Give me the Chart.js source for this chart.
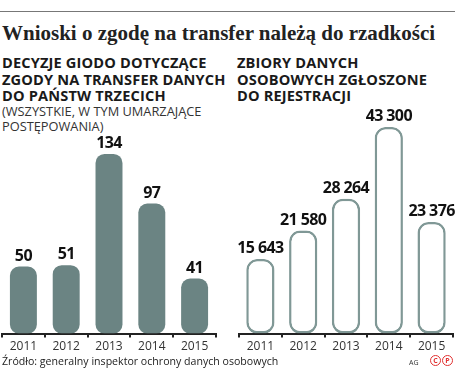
<!DOCTYPE html>
<html>
<head>
<meta charset="utf-8">
<script src="https://cdn.jsdelivr.net/npm/chart.js@4"></script>
<style>
  body { margin: 0; width: 458px; height: 378px; background: #fff; position: relative; overflow: hidden; font-family: "Open Sans", sans-serif; }
  .rule { position: absolute; left: 0; top: 11px; width: 455px; height: 0; border-top: 1.5px solid #777; }
  .title { position: absolute; left: 2px; top: 21px; font: bold 21px "Liberation Serif", serif; color: #222; white-space: nowrap; }
  .sub { position: absolute; top: 54px; font: bold 14.6px/16.5px "Open Sans", sans-serif; color: #1a1a1a; white-space: nowrap; letter-spacing: 0.15px; }
  .sub small { display: block; font: 12.8px/15px "Open Sans", sans-serif; color: #333; letter-spacing: 0; }
  canvas { position: absolute; left: 0; top: 0; }
  .src { position: absolute; left: 2px; top: 354px; font: 10.6px "Open Sans", sans-serif; color: #222; white-space: nowrap; }
  .ag { position: absolute; left: 409px; top: 358px; font: 7px "Open Sans", sans-serif; color: #333; }
  .cp { position: absolute; top: 355px; width: 9px; height: 9px; border: 1.6px solid #e03030; border-radius: 50%; color: #e03030; font: bold 7px/9px "Open Sans", sans-serif; text-align: center; }
</style>
</head>
<body>
<div class="rule"></div>
<div class="title">Wnioski o zgodę na transfer należą do rzadkości</div>
<div class="sub" style="left:2px">DECYZJE GIODO DOTYCZĄCE<br>ZGODY NA TRANSFER DANYCH<br>DO PAŃSTW TRZECICH<small>(WSZYSTKIE, W TYM UMARZAJĄCE<br>POSTĘPOWANIA)</small></div>
<div class="sub" style="left:237px">ZBIORY DANYCH<br>OSOBOWYCH ZGŁOSZONE<br>DO REJESTRACJI</div>
<canvas id="left" width="458" height="378"></canvas>
<canvas id="right" width="458" height="378"></canvas>
<div class="src">Źródło: generalny inspektor ochrony danych osobowych</div>
<div class="ag">AG</div>
<div class="cp" style="left:430px">C</div>
<div class="cp" style="left:442px">P</div>
<script>
const years = ["2011", "2012", "2013", "2014", "2015"];
const decisions = [50, 51, 134, 97, 41];
const registrations = [15643, 21580, 28264, 43300, 23376];

// polish thousand separator
function fmt(v) {
    return String(v).replace(/\B(?=(\d{3})+(?!\d))/g, " ");
}

const valueLabels = {
    id: "valueLabels",
    afterDatasetsDraw(chart) {
        const ctx = chart.ctx;
        const meta = chart.getDatasetMeta(0);
        ctx.save();
        ctx.font = "bold 16px 'Open Sans', sans-serif";
        ctx.letterSpacing = "-0.6px";
        ctx.fillStyle = "#111";
        ctx.textAlign = "center";
        ctx.textBaseline = "alphabetic";
        meta.data.forEach((bar, i) => {
            ctx.fillText(fmt(chart.data.datasets[0].data[i]), bar.x, bar.y - 6);
        });
        ctx.restore();
    }
};

function makeChart(id, data, max, padLeft, padRight, filled) {
    return new Chart(document.getElementById(id), {
        type: "bar",
        data: {
            labels: years,
            datasets: [{
                data: data,
                backgroundColor: filled ? "#6b8483" : "#ffffff",
                borderColor: filled ? "#6b8483" : "#809896",
                borderWidth: filled ? 0 : 2.5,
                borderRadius: filled ? 9 : 11,
                borderSkipped: false,
                barPercentage: filled ? 0.63 : 0.66,
                categoryPercentage: 1
            }]
        },
        options: {
            responsive: false,
            animation: false,
            layout: { padding: { top: 100, left: padLeft, right: padRight, bottom: 22 } },
            plugins: { legend: { display: false }, tooltip: { enabled: false } },
            scales: {
                y: { display: false, min: 0, max: max },
                x: {
                    grid: { drawOnChartArea: false, drawTicks: true, tickLength: 4, color: "#222", lineWidth: 2, offset: true },
                    border: { display: true, color: "#222", width: 2 },
                    ticks: { color: "#333", padding: 2, font: { family: "'Open Sans', sans-serif", size: 12 } }
                }
            }
        },
        plugins: [valueLabels]
    });
}

makeChart("left", decisions, 174.2, 2, 242, true);
makeChart("right", registrations, 48948, 239, 5, false);
</script>
</body>
</html>
